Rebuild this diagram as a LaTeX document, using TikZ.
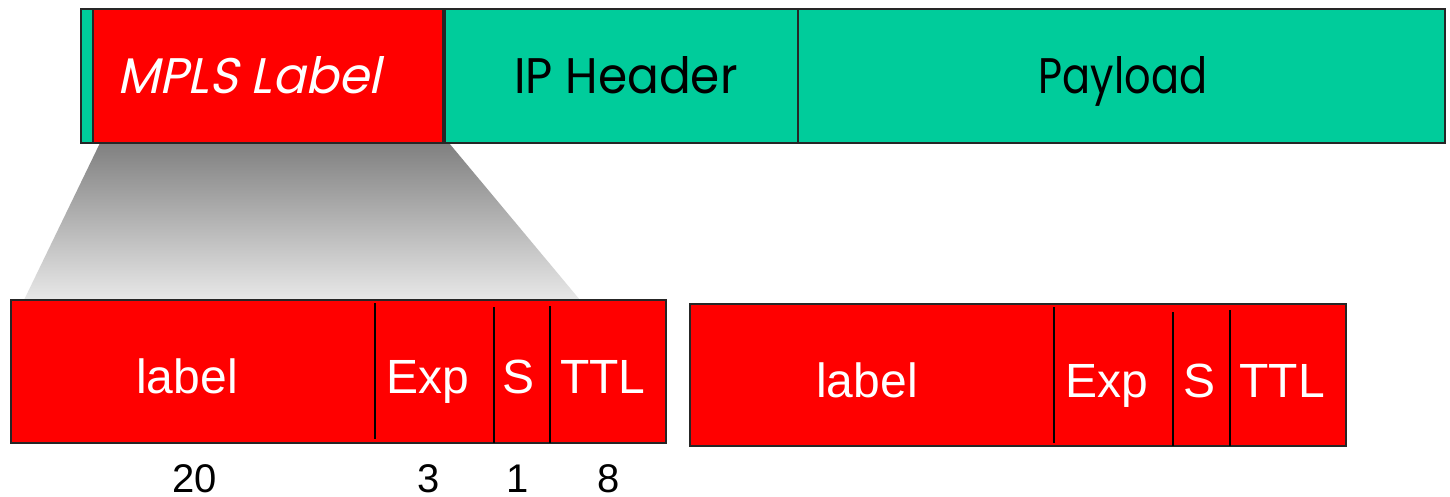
\documentclass[tikz,border=0pt]{standalone}
\usepackage{fontspec}
\setmainfont{Liberation Sans}
\newfontfamily\packetfont{Poppins}
\newfontfamily\packetslant[FakeSlant=0.22]{Poppins}
\usetikzlibrary{backgrounds}
\definecolor{fieldred}{RGB}{255,0,0}
\definecolor{packetgreen}{RGB}{0,204,155}
\definecolor{fadetop}{RGB}{128,128,128}
\definecolor{fadebottom}{RGB}{232,232,232}

\begin{document}
\begin{tikzpicture}[x=1pt,y=-1pt,
  box/.style={draw=black!85, line width=1.7pt, inner sep=0pt, outer sep=0pt},
  greenbox/.style={box, fill=packetgreen, anchor=north west},
  redbox/.style={box, fill=fieldred, anchor=north west},
  toptext/.style={anchor=base, inner sep=0pt, font=\packetfont\fontsize{50}{50}\selectfont},
  field/.style={anchor=base, inner sep=0pt, text=white, font=\fontsize{48}{48}\selectfont},
  bits/.style={anchor=base, inner sep=0pt, font=\fontsize{40}{40}\selectfont},
  divider/.style={draw=black, line width=1.4pt}]

% canvas
\useasboundingbox (0,0) rectangle (1450,496);

% packet: label pushed in front of the IP header
\node[greenbox, minimum width=364pt, minimum height=134pt] (base) at (81,9) {};
\node[redbox, minimum width=350pt, minimum height=134pt] (mpls) at (93,9) {};
\node[greenbox, minimum width=353pt, minimum height=134pt] (iph) at (445,9) {};
\node[greenbox, minimum width=647pt, minimum height=134pt] (pay) at (798,9) {};

\node[toptext, text=white, font=\packetslant\fontsize{50}{50}\selectfont, xscale=0.98] (mplstxt) at (249,93) {MPLS Label};
\node[toptext, xscale=0.94] (iptxt) at (626,93) {IP Header};
\node[toptext, xscale=0.83] (paytxt) at (1123,93) {Payload};

% label stack entries
\node[redbox, minimum width=655pt, minimum height=143pt] (stackA) at (11,300) {};
\node[redbox, minimum width=656pt, minimum height=142pt] (stackB) at (690,304) {};

% white page, then the zoom fan from the label to the first entry
\begin{pgfonlayer}{background}
  \fill[white] (0,0) rectangle (1450,496);
  \coordinate (fanTL) at (100,143);
  \coordinate (fanTR) at (449,143);
  \coordinate (fanBR) at (580,300);
  \coordinate (fanBL) at (24,300);
  \shade[top color=fadetop, bottom color=fadebottom]
    (fanTL) -- (fanTR) -- (fanBR) -- (fanBL) -- cycle;
\end{pgfonlayer}

% field boundaries
\draw[divider] (375,303) -- (375,439);
\draw[divider] (494,307) -- (494,443);
\draw[divider] (550,306) -- (550,443);
\draw[divider] (1054,307) -- (1054,443);
\draw[divider] (1173,312) -- (1173,446);
\draw[divider] (1230,310) -- (1230,446);

% field names
\node[field] (labA) at (187,393) {label};
\node[field] (expA) at (428,393) {Exp};
\node[field] (sA)   at (519,393) {S};
\node[field] (ttlA) at (603,393) {TTL};
\node[field] (labB) at (867,397) {label};
\node[field] (expB) at (1107,397) {Exp};
\node[field] (sB)   at (1199,397) {S};
\node[field] (ttlB) at (1282,397) {TTL};

% field widths in bits
\node[bits] (w20) at (195,492) {20};
\node[bits] (w3)  at (429,492) {3};
\node[bits] (w1)  at (518,492) {1};
\node[bits] (w8)  at (609,492) {8};
\end{tikzpicture}
\end{document}
